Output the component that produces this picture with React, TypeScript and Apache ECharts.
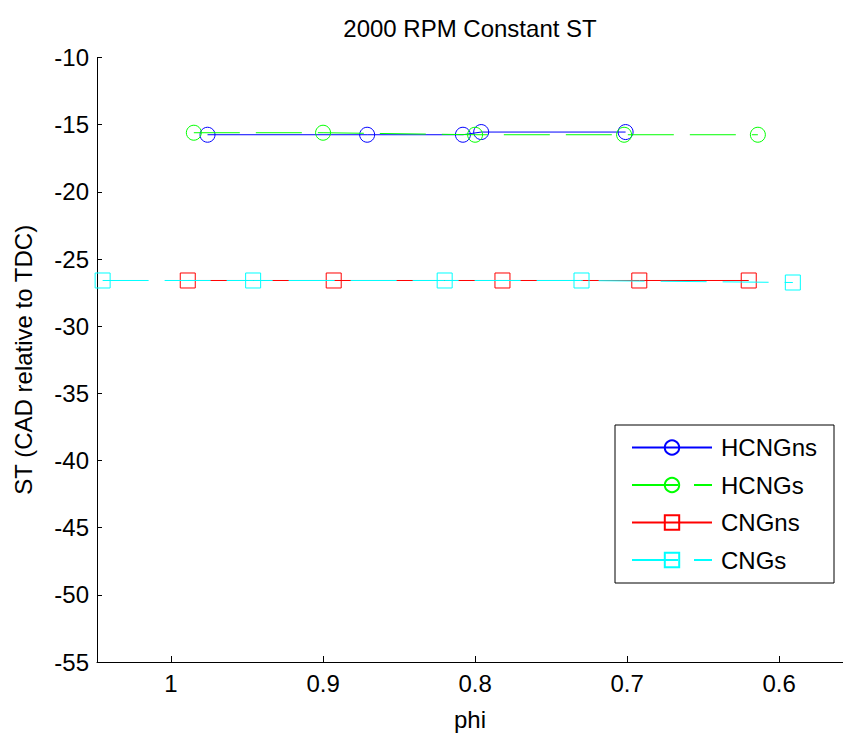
import React, { useEffect, useRef } from "react";
import * as echarts from "echarts";

const seriesNames = ["HCNGns", "HCNGs", "CNGns", "CNGs"];
const seriesColors = ["#0000ff", "#00ff00", "#ff0000", "#00ffff"];
const seriesSymbols = ["circle", "circle", "rect", "rect"];
const seriesDashed = [false, true, false, true];

const hcngnsPhi = [0.976, 0.871, 0.808, 0.796, 0.701];
const hcngnsST = [-15.75, -15.75, -15.75, -15.55, -15.55];
const hcngsPhi = [0.985, 0.9, 0.8, 0.702, 0.614];
const hcngsST = [-15.6, -15.6, -15.75, -15.75, -15.75];
const cngnsPhi = [0.989, 0.893, 0.782, 0.692, 0.62];
const cngnsST = [-26.6, -26.6, -26.6, -26.6, -26.6];
const cngsPhi = [1.045, 0.946, 0.82, 0.73, 0.591];
const cngsST = [-26.6, -26.6, -26.6, -26.6, -26.75];

const xTicks = [0.6, 0.7, 0.8, 0.9, 1];
const titleText = "2000 RPM Constant ST";
const xName = "phi";
const yName = "ST (CAD relative to TDC)";

const FONT = "'Liberation Sans', Arial, Helvetica, sans-serif";

export default function App() {
  const ref = useRef<HTMLDivElement>(null);
  useEffect(() => {
    if (!ref.current) return;
    const chart = echarts.init(ref.current, null, { renderer: "svg" });
    const xs = [hcngnsPhi, hcngsPhi, cngnsPhi, cngsPhi];
    const ys = [hcngnsST, hcngsST, cngnsST, cngsST];
    const series = seriesNames.map((name, i) => ({
      name,
      type: "line",
      data: xs[i].map((x, k) => [x, ys[i][k]]),
      symbol: seriesSymbols[i],
      symbolSize: 15,
      showSymbol: true,
      showAllSymbol: true,
      lineStyle: {
        color: seriesColors[i],
        width: 1,
        type: seriesDashed[i] ? [46, 16] : "solid",
      },
      itemStyle: {
        color: "rgba(0,0,0,0)",
        borderColor: seriesColors[i],
        borderWidth: 1,
      },
      emphasis: { disabled: true },
      z: 2 + i,
    }));
    chart.setOption({
      animation: false,
      backgroundColor: "#ffffff",
      textStyle: { fontFamily: FONT },
      grid: { left: 97, top: 57.5, width: 746, height: 609, containLabel: false },
      xAxis: {
        type: "value",
        inverse: true,
        min: 0.558,
        max: 1.0487,
        name: xName,
        nameLocation: "middle",
        nameGap: 45,
        nameTextStyle: { fontSize: 24, color: "#000", fontFamily: FONT },
        axisLine: { show: true, onZero: false, lineStyle: { color: "#000", width: 1 } },
        axisTick: {
          show: true,
          inside: true,
          length: 6,
          customValues: xTicks,
          lineStyle: { color: "#000" },
        },
        axisLabel: {
          show: true,
          customValues: xTicks,
          margin: 9,
          fontSize: 24,
          color: "#000",
          fontFamily: FONT,
          formatter: (v: number) => String(+v.toFixed(1)),
        },
        splitLine: { show: false },
      },
      yAxis: {
        type: "value",
        min: -55,
        max: -10,
        interval: 5,
        name: yName,
        nameLocation: "middle",
        nameGap: 62,
        nameTextStyle: { fontSize: 24, color: "#000", fontFamily: FONT },
        axisLine: { show: true, onZero: false, lineStyle: { color: "#000", width: 1 } },
        axisTick: { show: true, inside: true, length: 5, lineStyle: { color: "#000" } },
        axisLabel: { margin: 8, fontSize: 24, color: "#000", fontFamily: FONT },
        splitLine: { show: false },
      },
      legend: {
        show: true,
        orient: "vertical",
        left: 615,
        top: 425,
        selectedMode: false,
        backgroundColor: "#ffffff",
        borderColor: "#000",
        borderWidth: 1,
        padding: [10.5, 17, 11, 16],
        itemWidth: 80,
        itemHeight: 18,
        itemGap: 13.5,
        textStyle: {
          fontSize: 24,
          color: "#000",
          fontFamily: FONT,
          lineHeight: 24,
          padding: [0, 0, 0, 4],
        },
        data: seriesNames,
      },
      graphic: [
        {
          type: "text",
          x: 470,
          y: 28,
          style: {
            text: titleText,
            fontSize: 24,
            fontFamily: FONT,
            fill: "#000",
            textAlign: "center",
            textVerticalAlign: "middle",
          },
        },
      ],
      series,
    });
    return () => chart.dispose();
  }, []);
  return (
    <div
      ref={ref}
      style={{ position: "absolute", left: 0, top: 0, width: 843, height: 736, background: "#fff" }}
    />
  );
}
